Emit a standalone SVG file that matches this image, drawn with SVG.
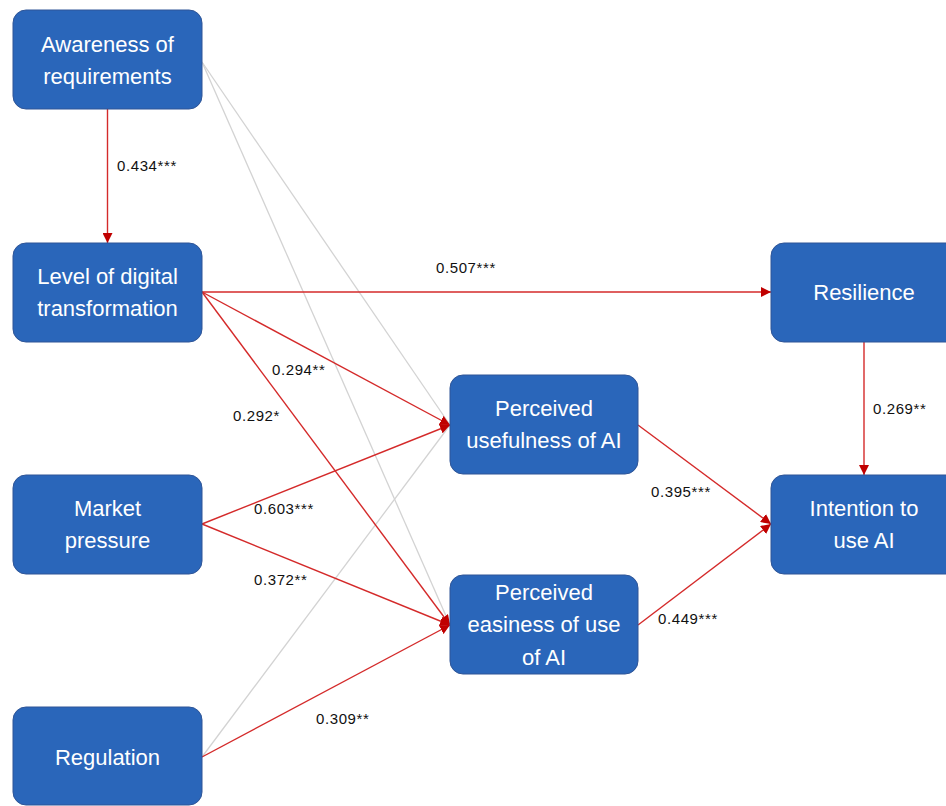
<svg xmlns="http://www.w3.org/2000/svg" width="946" height="806" viewBox="0 0 946 806">
<defs>
<marker id="ah" viewBox="0 0 10 10" refX="10" refY="5" markerUnits="userSpaceOnUse" markerWidth="10" markerHeight="10" orient="auto">
<path d="M0,0 L10,5 L0,10 z" fill="#C00000"/>
</marker>
<style>
.box{fill:#2A66BA;stroke:#2F5597;stroke-width:1}
.nt{font-family:"Liberation Sans",Arial,sans-serif;font-size:22px;fill:#FFFFFF;text-anchor:middle}
.lb{font-family:"Liberation Sans",Arial,sans-serif;font-size:15px;letter-spacing:0.6px;fill:#111111}
.red{stroke:#D42A2A;stroke-width:1.4;fill:none;marker-end:url(#ah)}
.gray{stroke:#D3D3D3;stroke-width:1.3;fill:none}
</style>
</defs>
<rect width="946" height="806" fill="#FFFFFF"/>
<g id="connectors">
<line class="gray" x1="202" y1="62" x2="450" y2="425"/>
<line class="gray" x1="202" y1="62" x2="450" y2="625"/>
<line class="gray" x1="202" y1="757" x2="450" y2="425"/>
<line class="red" x1="107.5" y1="109" x2="107.5" y2="243"/>
<line class="red" x1="202" y1="292" x2="771" y2="292"/>
<line class="red" x1="202" y1="292" x2="450" y2="425"/>
<line class="red" x1="202" y1="292" x2="450" y2="625"/>
<line class="red" x1="202" y1="524" x2="450" y2="425"/>
<line class="red" x1="202" y1="524" x2="450" y2="625"/>
<line class="red" x1="202" y1="757" x2="450" y2="625"/>
<line class="red" x1="638" y1="425" x2="771" y2="524"/>
<line class="red" x1="638" y1="625" x2="771" y2="524"/>
<line class="red" x1="864" y1="342" x2="864" y2="475"/>
</g>
<g id="labels">
<text class="lb" x="117" y="171">0.434***</text>
<text class="lb" x="436" y="273">0.507***</text>
<text class="lb" x="272" y="375">0.294**</text>
<text class="lb" x="233" y="421">0.292*</text>
<text class="lb" x="254" y="514">0.603***</text>
<text class="lb" x="254" y="585">0.372**</text>
<text class="lb" x="316" y="724">0.309**</text>
<text class="lb" x="651" y="497">0.395***</text>
<text class="lb" x="658" y="624">0.449***</text>
<text class="lb" x="873" y="414">0.269**</text>
</g>
<g id="awareness">
<rect class="box" x="13" y="10" width="189" height="99" rx="13"/>
<text class="nt" x="107.5" y="52">Awareness of</text>
<text class="nt" x="107.5" y="84">requirements</text>
</g>
<g id="digital">
<rect class="box" x="13" y="243" width="189" height="99" rx="13"/>
<text class="nt" x="107.5" y="284">Level of digital</text>
<text class="nt" x="107.5" y="316">transformation</text>
</g>
<g id="market">
<rect class="box" x="13" y="475" width="189" height="99" rx="13"/>
<text class="nt" x="107.5" y="516">Market</text>
<text class="nt" x="107.5" y="548">pressure</text>
</g>
<g id="regulation">
<rect class="box" x="13" y="707" width="189" height="98" rx="13"/>
<text class="nt" x="107.5" y="765">Regulation</text>
</g>
<g id="usefulness">
<rect class="box" x="450" y="375" width="188" height="99" rx="13"/>
<text class="nt" x="544" y="416">Perceived</text>
<text class="nt" x="544" y="448">usefulness of AI</text>
</g>
<g id="easiness">
<rect class="box" x="450" y="575" width="188" height="99" rx="13"/>
<text class="nt" x="544" y="600">Perceived</text>
<text class="nt" x="544" y="632">easiness of use</text>
<text class="nt" x="544" y="665">of AI</text>
</g>
<g id="resilience">
<rect class="box" x="771" y="243" width="189" height="99" rx="13"/>
<text class="nt" x="864" y="300">Resilience</text>
</g>
<g id="intention">
<rect class="box" x="771" y="475" width="189" height="99" rx="13"/>
<text class="nt" x="864" y="516">Intention to</text>
<text class="nt" x="864" y="548">use AI</text>
</g>
</svg>
